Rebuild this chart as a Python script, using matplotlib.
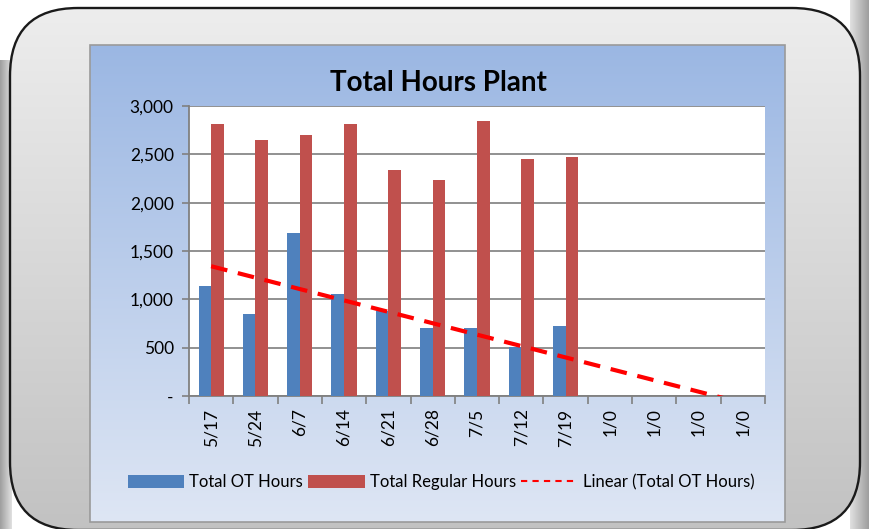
import numpy as np
import matplotlib
matplotlib.use("Agg")
import matplotlib.pyplot as plt
from matplotlib.patches import FancyBboxPatch, Rectangle, Patch
from matplotlib.lines import Line2D

plt.rcParams['font.family'] = ['Lato', 'DejaVu Sans']

categories = ["5/17", "5/24", "6/7", "6/14", "6/21", "6/28", "7/5", "7/12", "7/19",
              "1/0", "1/0", "1/0", "1/0"]
ot_hours = [1138, 845, 1686, 1052, 883, 708, 708, 504, 728, 0, 0, 0, 0]
regular_hours = [2814, 2645, 2697, 2814, 2335, 2231, 2849, 2456, 2469, 0, 0, 0, 0]
yticks = [0, 500, 1000, 1500, 2000, 2500, 3000]
ytick_labels = ["-", "500", "1,000", "1,500", "2,000", "2,500", "3,000"]
title = "Total Hours Plant"
series_names = ["Total OT Hours", "Total Regular Hours", "Linear (Total OT Hours)"]

W, H = 869, 529
fig = plt.figure(figsize=(W / 100, H / 100), dpi=100)
fig.patch.set_facecolor("white")

def fx(x):
    return x / W

def fy(y):
    return 1 - y / H

# page background with gray edges
bg = fig.add_axes([0, 0, 1, 1])
bg.set_xlim(0, W)
bg.set_ylim(H, 0)
bg.axis("off")
edge = np.linspace(0.88, 0.62, 50)[None, :]
bg.imshow(np.dstack([edge, edge, edge]), extent=(850, 869, 529, 0), aspect="auto", zorder=0)
bg.imshow(np.dstack([edge[:, ::-1]] * 3), extent=(0, 12, 529, 60), aspect="auto", zorder=0)

# outer rounded panel with vertical gray gradient
outer = FancyBboxPatch((10, 8), 850, 522, boxstyle="round,pad=0,rounding_size=68",
                       facecolor="none", edgecolor="#1a1a1a", linewidth=1.7, zorder=1.5)
bg.add_patch(outer)
g = np.linspace(0.93, 0.76, 256)[:, None]
gimg = np.dstack([g, g, g])
gimg = np.repeat(gimg, 2, axis=1)
im = bg.imshow(gimg, extent=(10, 860, 530, 8), aspect="auto", zorder=1)
im.set_clip_path(outer)

# chart area gradient
top = np.array([155, 183, 227]) / 255
bot = np.array([222, 230, 244]) / 255
t = np.linspace(0, 1, 256)[:, None]
grad = top[None, None, :] * (1 - t[..., None]) + bot[None, None, :] * t[..., None]
grad = np.repeat(grad, 2, axis=1)
bg.imshow(grad, extent=(90, 785, 522, 45), aspect="auto", zorder=2)
bg.add_patch(Rectangle((90, 45), 695, 477, fill=False, edgecolor="#9a9a9a", linewidth=1.2, zorder=3))
bg.set_xlim(0, W)
bg.set_ylim(H, 0)

# plot area
ax = fig.add_axes([fx(189), fy(396), (765 - 189) / W, (396 - 106) / H])
ax.set_facecolor("white")
x = np.arange(len(categories))
w = 0.285
ax.bar(x - w / 2, ot_hours, width=w, color="#4F81BD", zorder=3)
ax.bar(x + w / 2, regular_hours, width=w, color="#C0504D", zorder=3)

coef = np.polyfit(x + 1, ot_hours, 1)
trend = np.polyval(coef, x + 1)
ax.plot(x, trend, color="#FF0000", linewidth=3, dashes=(4, 2.6), zorder=4)

ax.set_xlim(-0.5, len(categories) - 0.5)
ax.set_ylim(0, 3000)
ax.set_yticks(yticks)
ax.set_yticklabels(ytick_labels, fontsize=12.5)
ax.set_xticks(x)
ax.set_xticklabels(categories, rotation=90, fontsize=12.5)
ax.set_xticks(np.arange(-0.5, len(categories)), minor=True)
ax.tick_params(axis="x", which="major", length=0, pad=9)
ax.tick_params(axis="x", which="minor", length=6, color="#808080", width=1.2)
ax.tick_params(axis="y", length=5, color="#808080", width=1.2, pad=6)
ax.yaxis.grid(True, color="#888888", linewidth=1.3, zorder=0)
ax.set_axisbelow(True)
for s in ["top", "right"]:
    ax.spines[s].set_visible(False)
for s in ["left", "bottom"]:
    ax.spines[s].set_color("#808080")
    ax.spines[s].set_linewidth(1.3)

fig.text(fx(438), fy(83), title, ha="center", va="center", fontsize=20, fontweight="bold")

handles = [Patch(facecolor="#4F81BD"), Patch(facecolor="#C0504D"),
           Line2D([0], [0], color="#FF0000", linewidth=1.5, dashes=(3, 2.5))]
fig.legend(handles, series_names, loc="center", bbox_to_anchor=(fx(441), fy(482)), ncol=3,
           frameon=False, fontsize=12, handlelength=3.4, handleheight=0.85,
           handletextpad=0.3, columnspacing=0.3)

fig.savefig("out.png", dpi=100)
